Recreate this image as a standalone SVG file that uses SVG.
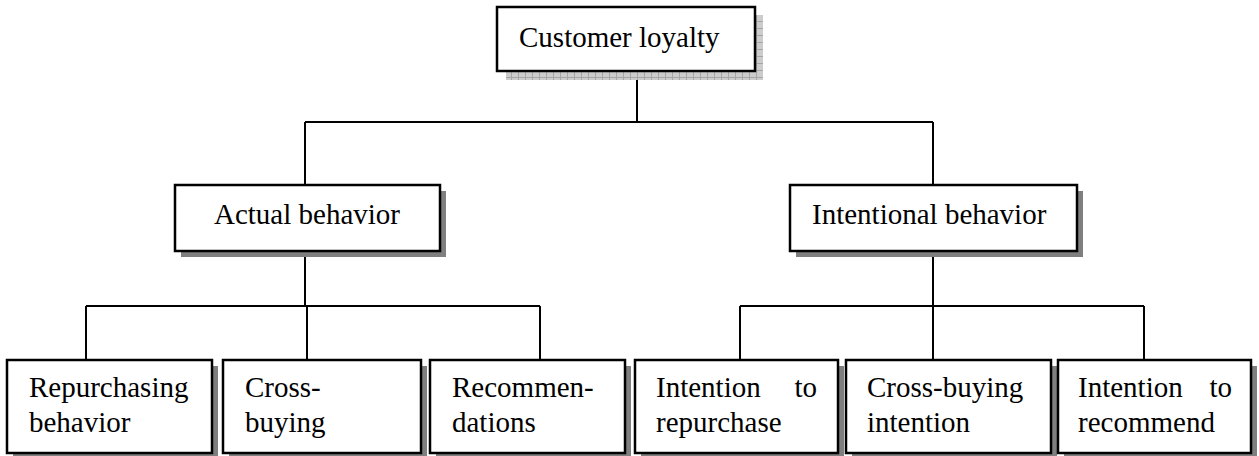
<svg xmlns="http://www.w3.org/2000/svg" width="1259" height="456" viewBox="0 0 1259 456">
  <defs>
    <!-- fine checkered fill used for the top box's shadow -->
    <pattern id="grid" width="7" height="7" patternUnits="userSpaceOnUse">
      <rect width="7" height="7" fill="#cccccc"/>
      <path d="M0 0.5H7M0.5 0V7" stroke="#a6a6a6" stroke-width="1"/>
    </pattern>
    <style>
      .box { fill: #fff; stroke: #000; stroke-width: 2.5; }
      .shadow { fill: #7f7f7f; }
      .gridshadow { fill: url(#grid); }
      .link { fill: none; stroke: #000; stroke-width: 2; }
      text { font-family: "Liberation Serif", "Times New Roman", serif; font-size: 29px; fill: #000; }
    </style>
  </defs>

  <rect width="1259" height="456" fill="#fff"/>

  <!-- connectors -->
  <g id="connectors">
    <path class="link" d="M637 71V122M305 122H933M305 122V185M933 122V185"/>
    <path class="link" d="M305 251V306M86 306H540M86 306V360M307 306V360M540 306V360"/>
    <path class="link" d="M933 251V306M740 306H1144M740 306V360M933 306V360M1144 306V360"/>
  </g>

  <!-- level 0 -->
  <g id="customer-loyalty">
    <rect class="gridshadow" x="506" y="15" width="257" height="65"/>
    <rect class="box" x="497" y="7" width="258" height="64"/>
    <text x="519" y="47">Customer loyalty</text>
  </g>

  <!-- level 1 -->
  <g id="actual-behavior">
    <rect class="shadow" x="181" y="191" width="265" height="66"/>
    <rect class="box" x="175" y="185" width="265" height="66"/>
    <text x="214" y="224">Actual behavior</text>
  </g>
  <g id="intentional-behavior">
    <rect class="shadow" x="796" y="191" width="287" height="66"/>
    <rect class="box" x="790" y="185" width="287" height="66"/>
    <text x="812" y="224">Intentional behavior</text>
  </g>

  <!-- level 2 -->
  <g id="repurchasing-behavior">
    <rect class="shadow" x="13" y="366" width="205" height="100"/>
    <rect class="box" x="7" y="360" width="205" height="93"/>
    <text x="29" y="397">Repurchasing</text>
    <text x="29" y="432">behavior</text>
  </g>
  <g id="cross-buying">
    <rect class="shadow" x="229" y="366" width="198" height="100"/>
    <rect class="box" x="223" y="360" width="198" height="93"/>
    <text x="245" y="397">Cross-</text>
    <text x="245" y="432">buying</text>
  </g>
  <g id="recommendations">
    <rect class="shadow" x="436" y="366" width="195" height="100"/>
    <rect class="box" x="430" y="360" width="195" height="93"/>
    <text x="452" y="397">Recommen-</text>
    <text x="452" y="432">dations</text>
  </g>
  <g id="intention-to-repurchase">
    <rect class="shadow" x="641" y="366" width="203" height="100"/>
    <rect class="box" x="635" y="360" width="203" height="93"/>
    <text x="656" y="397">Intention</text>
    <text x="817" y="397" text-anchor="end">to</text>
    <text x="656" y="432">repurchase</text>
  </g>
  <g id="cross-buying-intention">
    <rect class="shadow" x="852" y="366" width="205" height="100"/>
    <rect class="box" x="846" y="360" width="205" height="93"/>
    <text x="867" y="397">Cross-buying</text>
    <text x="867" y="432">intention</text>
  </g>
  <g id="intention-to-recommend">
    <rect class="shadow" x="1064" y="366" width="193" height="100"/>
    <rect class="box" x="1058" y="360" width="193" height="93"/>
    <text x="1078" y="397">Intention</text>
    <text x="1232" y="397" text-anchor="end">to</text>
    <text x="1078" y="432">recommend</text>
  </g>
</svg>
